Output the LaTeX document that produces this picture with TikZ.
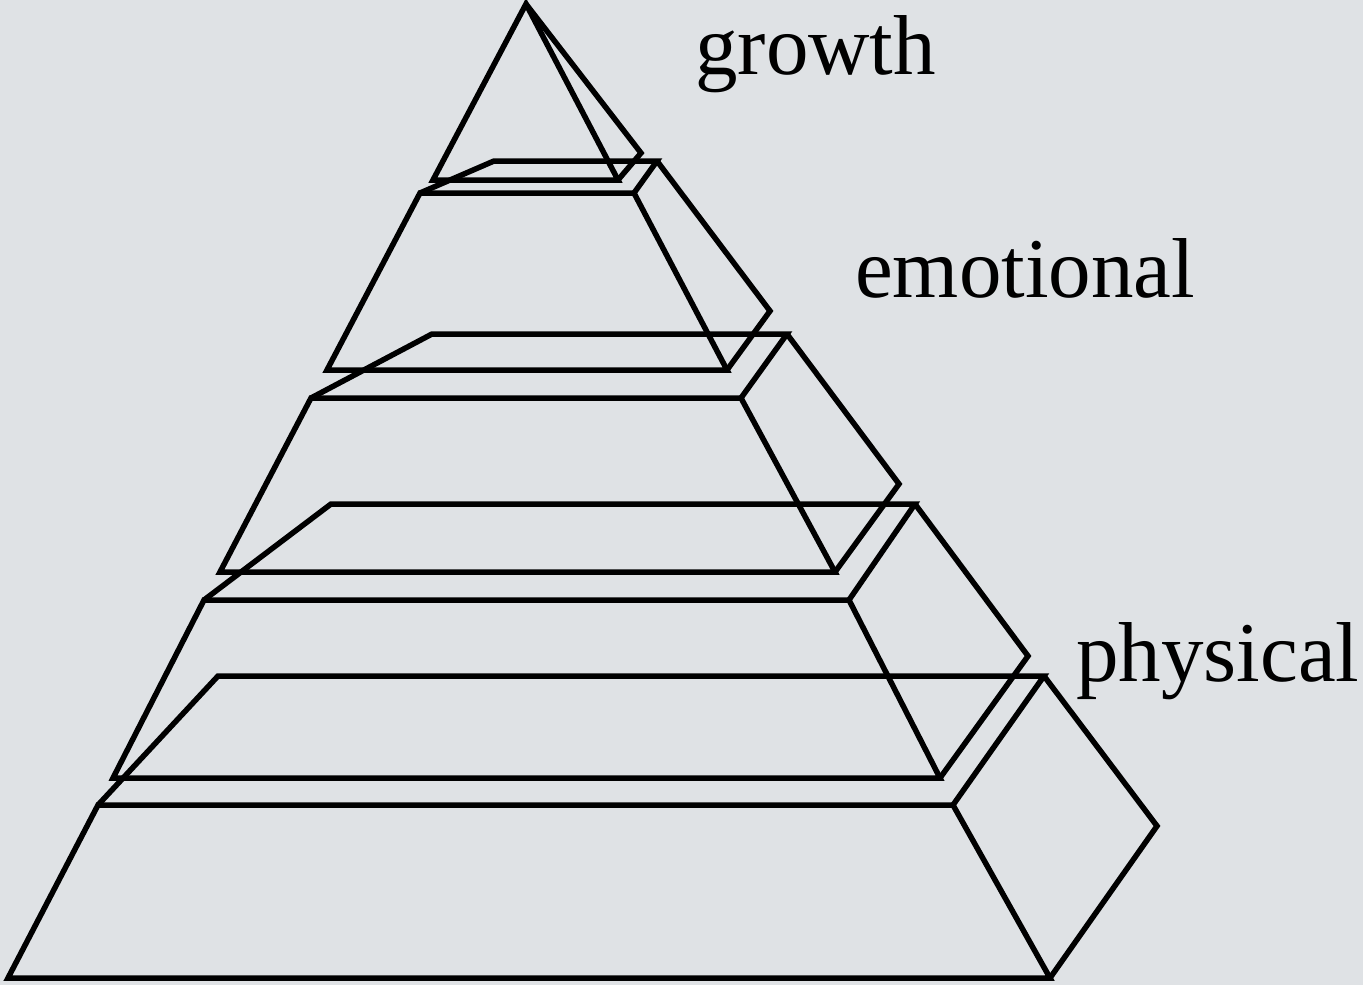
\documentclass[tikz,border=0pt]{standalone}
\usepackage{fontspec}
\setmainfont{Liberation Serif}
\definecolor{paperGray}{RGB}{223,226,229}
\tikzset{
  block/.style={line width=5.5pt,line join=miter},
  tag/.style={anchor=base west,inner sep=0pt,font=\fontsize{85}{100}\selectfont}
}

\begin{document}
\begin{tikzpicture}[x=1pt,y=-1pt]
\fill[paperGray] (0,0) rectangle (1363,985);
% apex
\draw[block] (433,180) -- (526,4) -- (618,180) -- cycle;
\draw[block] (526,4) -- (641,153) -- (618,180);
% second layer
\draw[block] (327,370) -- (420,193) -- (634,193) -- (727,370) -- cycle;
\draw[block] (420,193) -- (494,161) -- (657,161) -- (634,193);
\draw[block] (657,161) -- (770,311) -- (727,370);
% third layer
\draw[block] (220,572) -- (311,398) -- (741,398) -- (835,572) -- cycle;
\draw[block] (311,398) -- (432,334) -- (787,334) -- (741,398);
\draw[block] (787,334) -- (899,484) -- (835,572);
% fourth layer
\draw[block] (113,778) -- (204,600) -- (849,600) -- (940,778) -- cycle;
\draw[block] (204,600) -- (331,504) -- (915,504) -- (849,600);
\draw[block] (915,504) -- (1028,656) -- (940,778);
% base
\draw[block] (8,978) -- (98,805) -- (953,805) -- (1050,978) -- cycle;
\draw[block] (98,805) -- (218,676) -- (1044,676) -- (953,805);
\draw[block] (1044,676) -- (1157,826) -- (1050,978);
% labels
\node[tag] (growth) at (695,74) {growth};
\node[tag] (emotional) at (855,297) {emotional};
\node[tag] (physical) at (1076,681) {physical};
\end{tikzpicture}
\end{document}
